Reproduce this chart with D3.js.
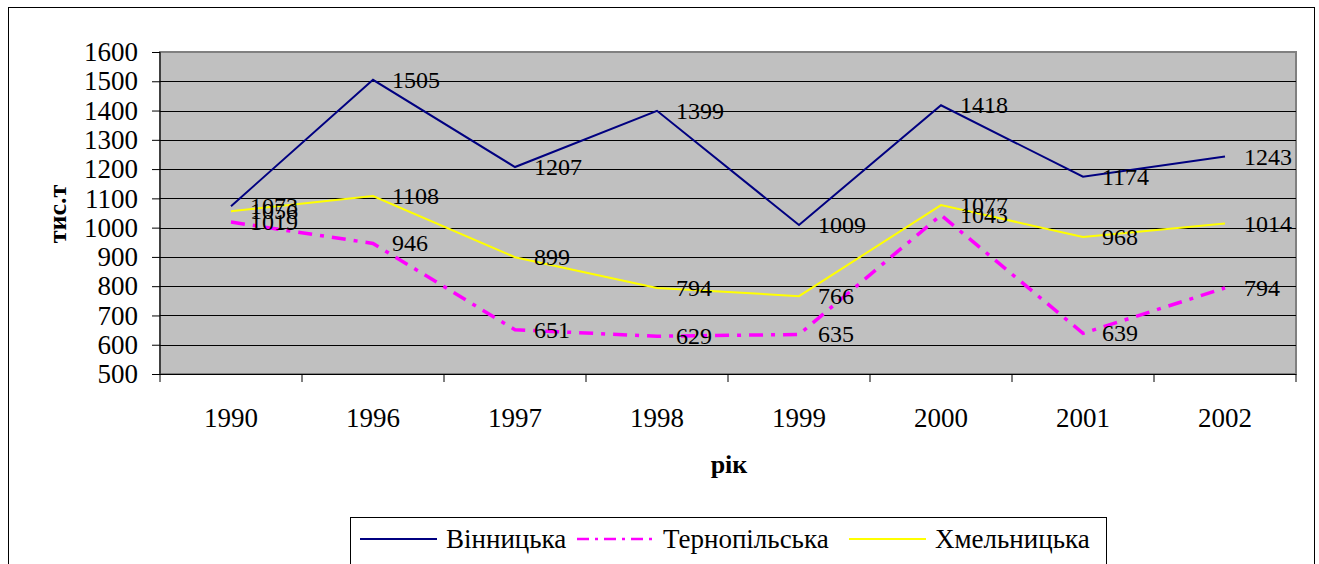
<!DOCTYPE html>
<html>
<head>
<meta charset="utf-8">
<script src="https://cdn.jsdelivr.net/npm/d3@7"></script>
</head>
<body style="margin:0">
<script>
var years = ['1990', '1996', '1997', '1998', '1999', '2000', '2001', '2002'];
var vinnytska = [1073, 1505, 1207, 1399, 1009, 1418, 1174, 1243];
var ternopilska = [1019, 946, 651, 629, 635, 1043, 639, 794];
var khmelnytska = [1056, 1108, 899, 794, 766, 1077, 968, 1014];
var yTicks = [500, 600, 700, 800, 900, 1000, 1100, 1200, 1300, 1400, 1500, 1600];
var seriesNames = ['Вінницька', 'Тернопільська', 'Хмельницька'];

var W = 1319, H = 564;
var plot = { left: 160, top: 52, right: 1296, bottom: 374 };
var FONT = "'Liberation Serif', 'Times New Roman', Tinos, serif";

var svg = d3.select('body').append('svg').attr('width', W).attr('height', H)
  .style('display', 'block').style('font-family', FONT);

// outer chart frame
svg.append('rect').attr('x', 8.5).attr('y', 7.5).attr('width', 1306).attr('height', 600)
  .attr('fill', '#fff').attr('stroke', '#000').attr('stroke-width', 1);

var x = d3.scaleBand().domain(years).range([plot.left, plot.right]);
var y = d3.scaleLinear().domain([500, 1600]).range([plot.bottom, plot.top]);

// plot area
svg.append('rect').attr('x', plot.left).attr('y', plot.top)
  .attr('width', plot.right - plot.left).attr('height', plot.bottom - plot.top)
  .attr('fill', '#c0c0c0').attr('stroke', '#808080').attr('stroke-width', 2);

// gridlines
svg.append('g').selectAll('line').data(yTicks.filter(function (d) { return d > 500 && d < 1600; }))
  .enter().append('line')
  .attr('x1', plot.left).attr('x2', plot.right)
  .attr('y1', function (d) { return Math.round(y(d)) + 0.5; })
  .attr('y2', function (d) { return Math.round(y(d)) + 0.5; })
  .attr('stroke', '#000').attr('stroke-width', 1);

// y axis
var yAxis = d3.axisLeft(y).tickValues(yTicks).tickSize(8).tickPadding(14).tickFormat(d3.format('d'));
var yG = svg.append('g').attr('transform', 'translate(' + plot.left + ',0)').call(yAxis);
yG.attr('font-family', null).attr('font-size', null);
yG.select('.domain').attr('stroke', '#000').attr('d', 'M0,' + plot.top + 'V' + plot.bottom);
yG.selectAll('.tick line').attr('stroke', '#000');
yG.selectAll('.tick text').attr('fill', '#000')
  .style('font-family', FONT).style('font-size', '27px');

// x axis with ticks between categories
var xG = svg.append('g').attr('transform', 'translate(0,' + plot.bottom + ')');
xG.append('line').attr('x1', plot.left).attr('x2', plot.right).attr('y1', 0.5).attr('y2', 0.5).attr('stroke', '#000');
var bounds = years.map(function (d) { return x(d); }).concat([plot.right]);
xG.selectAll('line.tk').data(bounds).enter().append('line').attr('class', 'tk')
  .attr('x1', function (d) { return d; }).attr('x2', function (d) { return d; })
  .attr('y1', 0).attr('y2', 8).attr('stroke', '#000');
xG.selectAll('text').data(years).enter().append('text')
  .attr('x', function (d) { return x(d) + x.bandwidth() / 2; })
  .attr('y', 53).attr('text-anchor', 'middle')
  .style('font-family', FONT).style('font-size', '27px')
  .text(function (d) { return d; });

// axis titles
svg.append('text').attr('transform', 'translate(66,214) rotate(-90)')
  .attr('text-anchor', 'middle').style('font-family', FONT).style('font-weight', 'bold').style('font-size', '26px').text('тис.т');
svg.append('text').attr('x', 729).attr('y', 473)
  .attr('text-anchor', 'middle').style('font-family', FONT).style('font-weight', 'bold').style('font-size', '26px').text('рік');

var series = [
  { name: seriesNames[0], values: vinnytska, color: '#000080', width: 2, dash: null, legendWidth: 2 },
  { name: seriesNames[1], values: ternopilska, color: '#ff00ff', width: 3.5, dash: '14,8,4,8', legendWidth: 2.5 },
  { name: seriesNames[2], values: khmelnytska, color: '#ffff00', width: 2, dash: null, legendWidth: 2 }
];

var line = d3.line()
  .x(function (d, i) { return x(years[i]) + x.bandwidth() / 2; })
  .y(function (d) { return y(d); });

series.forEach(function (s) {
  svg.append('path').datum(s.values).attr('d', line)
    .attr('fill', 'none').attr('stroke', s.color).attr('stroke-width', s.width)
    .attr('stroke-dasharray', s.dash);
});

// data labels
series.forEach(function (s) {
  svg.append('g').selectAll('text').data(s.values).enter().append('text')
    .attr('x', function (d, i) { return x(years[i]) + x.bandwidth() / 2 + 19; })
    .attr('y', function (d) { return y(d) + 8; })
    .style('font-family', FONT).style('font-size', '24px')
    .text(function (d) { return d; });
});

// legend
var lg = svg.append('g');
lg.append('rect').attr('x', 350.5).attr('y', 517.5).attr('width', 756).attr('height', 60)
  .attr('fill', '#fff').attr('stroke', '#000');
var legendX = [360, 577, 849];
series.forEach(function (s, i) {
  lg.append('line').attr('x1', legendX[i]).attr('x2', legendX[i] + 77)
    .attr('y1', 539).attr('y2', 539)
    .attr('stroke', s.color).attr('stroke-width', s.legendWidth)
    .attr('stroke-dasharray', s.dash ? '12,6,3,6' : null);
  lg.append('text').attr('x', legendX[i] + 86).attr('y', 548)
    .style('font-family', FONT).style('font-size', '27px').text(s.name);
});
</script>
</body>
</html>
